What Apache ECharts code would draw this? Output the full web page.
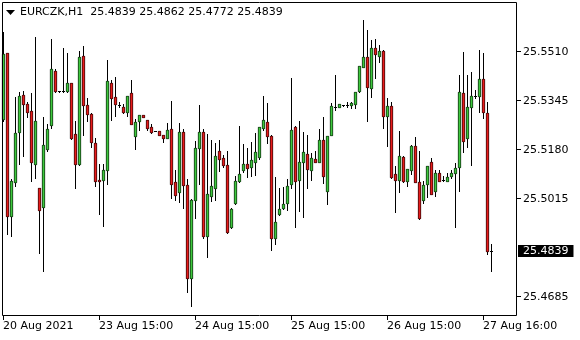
<!DOCTYPE html>
<html><head><meta charset="utf-8">
<script src="https://cdn.jsdelivr.net/npm/echarts@6/dist/echarts.min.js"></script>
<style>html,body{margin:0;padding:0;background:#fff}#c{width:580px;height:340px}</style>
</head><body><div id="c"></div>
<script>
const symbolTitle = 'EURCZK,H1  25.4839 25.4862 25.4772 25.4839';
const opens = [25.5284,25.5505,25.4958,25.5071,25.5239,25.5365,25.5335,25.5311,25.5133,25.5050,
25.4988,25.5183,25.5264,25.5445,25.5378,25.5378,25.5378,25.5404,25.5232,25.5131,
25.5496,25.5331,25.5300,25.5201,25.5078,25.5077,25.5111,25.5405,25.5358,25.5331,
25.5324,25.5306,25.5370,25.5226,25.5277,25.5297,25.5279,25.5257,25.5242,25.5243,
25.5230,25.5219,25.5249,25.5071,25.5037,25.5239,25.5061,25.4749,25.5012,25.5185,
25.5239,25.4889,25.5025,25.5052,25.5176,25.5151,25.5129,25.4920,25.4999,25.5073,
25.5111,25.5133,25.5122,25.5140,25.5156,25.5254,25.5273,25.5226,25.4884,25.4963,
25.4983,25.4999,25.5064,25.5257,25.5077,25.5138,25.5165,25.5111,25.5149,25.5140,
25.5212,25.5041,25.5230,25.5325,25.5323,25.5329,25.5329,25.5329,25.5333,25.5376,
25.5460,25.5491,25.5389,25.5522,25.5494,25.5513,25.5293,25.5327,25.5098,25.5077,
25.5156,25.5073,25.5113,25.5192,25.5071,25.5010,25.5066,25.5138,25.5041,25.5102,
25.5079,25.5075,25.5093,25.5100,25.5122,25.5371,25.5219,25.5324,25.5360,25.5362,
25.5418,25.5304,25.4839];
const closes = [25.5502,25.4958,25.5075,25.5237,25.5362,25.5333,25.5308,25.5138,25.5277,25.4978,
25.5196,25.5250,25.5452,25.5376,25.5378,25.5378,25.5404,25.5219,25.5133,25.5493,
25.5329,25.5300,25.5207,25.5075,25.5074,25.5111,25.5412,25.5353,25.5333,25.5329,
25.5306,25.5361,25.5268,25.5273,25.5297,25.5289,25.5252,25.5241,25.5242,25.5230,
25.5219,25.5246,25.5066,25.5028,25.5239,25.5061,25.4749,25.5012,25.5185,25.5239,
25.4891,25.5032,25.5057,25.5158,25.5149,25.5129,25.4902,25.4981,25.5075,25.5098,
25.5133,25.5118,25.5145,25.5172,25.5257,25.5279,25.5226,25.4884,25.4938,25.4981,
25.4996,25.5059,25.5248,25.5073,25.5138,25.5172,25.5115,25.5151,25.5140,25.5212,
25.5091,25.5226,25.5327,25.5324,25.5334,25.5329,25.5330,25.5338,25.5374,25.5461,
25.5491,25.5392,25.5522,25.5502,25.5513,25.5295,25.5327,25.5088,25.5077,25.5158,
25.5073,25.5115,25.5194,25.5071,25.4949,25.5061,25.5124,25.5032,25.5102,25.5075,
25.5079,25.5088,25.5102,25.5118,25.5374,25.5210,25.5324,25.5360,25.5362,25.5418,
25.5306,25.4839,25.4839];
const lows = [25.5275,25.4896,25.4891,25.5059,25.5133,25.5160,25.5291,25.5073,25.5086,25.4833,
25.4770,25.5174,25.5252,25.5374,25.5374,25.5374,25.5374,25.5217,25.5052,25.5129,
25.5228,25.5275,25.5190,25.5059,25.4965,25.4924,25.5066,25.5281,25.5293,25.5324,
25.5302,25.5294,25.5266,25.5183,25.5247,25.5289,25.5246,25.5237,25.5242,25.5230,
25.5207,25.5219,25.5019,25.5010,25.5003,25.4983,25.4700,25.4653,25.4949,25.5066,
25.4882,25.4819,25.5008,25.5012,25.5109,25.5122,25.4900,25.4918,25.4997,25.5072,
25.5104,25.5088,25.5093,25.5095,25.5149,25.5246,25.5201,25.4842,25.4862,25.4961,
25.4981,25.4978,25.5050,25.4920,25.4972,25.4954,25.5052,25.5077,25.5140,25.5140,
25.5068,25.4996,25.5229,25.5315,25.5323,25.5328,25.5324,25.5322,25.5322,25.5375,
25.5459,25.5277,25.5359,25.5421,25.5475,25.5252,25.5194,25.5084,25.4970,25.5039,
25.5072,25.5059,25.5098,25.5070,25.4948,25.4999,25.5021,25.5031,25.5025,25.5074,
25.5075,25.5074,25.5084,25.4920,25.5041,25.5172,25.5189,25.5129,25.5355,25.5308,
25.5286,25.4830,25.4772];
const highs = [25.5576,25.5507,25.5082,25.5358,25.5374,25.5376,25.5340,25.5371,25.5558,25.5051,
25.5290,25.5266,25.5553,25.5452,25.5378,25.5524,25.5506,25.5405,25.5275,25.5513,
25.5530,25.5353,25.5302,25.5219,25.5133,25.5133,25.5483,25.5414,25.5425,25.5340,
25.5333,25.5362,25.5415,25.5284,25.5298,25.5297,25.5280,25.5266,25.5242,25.5243,
25.5230,25.5270,25.5344,25.5111,25.5270,25.5250,25.5082,25.5014,25.5210,25.5331,
25.5250,25.5232,25.5214,25.5201,25.5212,25.5163,25.5174,25.4983,25.5091,25.5259,
25.5199,25.5185,25.5207,25.5237,25.5258,25.5362,25.5338,25.5228,25.5088,25.5052,
25.5055,25.5082,25.5421,25.5259,25.5277,25.5239,25.5228,25.5169,25.5174,25.5250,
25.5290,25.5227,25.5338,25.5430,25.5335,25.5330,25.5340,25.5342,25.5375,25.5462,
25.5618,25.5584,25.5551,25.5553,25.5533,25.5516,25.5355,25.5340,25.5124,25.5243,
25.5158,25.5116,25.5195,25.5223,25.5174,25.5075,25.5125,25.5151,25.5113,25.5111,
25.5091,25.5102,25.5111,25.5136,25.5432,25.5510,25.5432,25.5443,25.5380,25.5517,
25.5506,25.5340,25.4862];
const yTickValues = [25.4685, 25.5015, 25.5180, 25.5345, 25.5510];
const xTickLabels = ['20 Aug 2021', '23 Aug 15:00', '24 Aug 15:00', '25 Aug 15:00', '26 Aug 15:00', '27 Aug 16:00'];
const xTickEvery = 24;
const emptySlots = 6;
const lastClose = closes[closes.length - 1];

const FONT = 'DejaVu Sans';
const UP = '#3ec83e', DOWN = '#e81c1c';
const Y_MIN = 25.4620, Y_MAX = 25.5674;
const categories = [];
for (let i = 0; i < opens.length + emptySlots; i++) categories.push(String(i));
const candleData = opens.map((o, i) => [i, o, closes[i], lows[i], highs[i]]);
const isTick = (idx) => idx % xTickEvery === 0 && (idx / xTickEvery) < xTickLabels.length;

function renderCandle(params, api) {
  const i = api.value(0), o = api.value(1), c = api.value(2), l = api.value(3), h = api.value(4);
  const pO = api.coord([i, o]), pC = api.coord([i, c]), pL = api.coord([i, l]), pH = api.coord([i, h]);
  const cx = Math.floor(pO[0] + 0.01);
  const yT = Math.round(Math.min(pO[1], pC[1]));
  const yB = Math.round(Math.max(pO[1], pC[1]));
  const yH = Math.round(pH[1]), yL = Math.round(pL[1]);
  const children = [{
    type: 'line', shape: {x1: cx + 0.5, y1: yH, x2: cx + 0.5, y2: yL + 1},
    style: {stroke: '#000', lineWidth: 1}
  }];
  if (yB - yT < 1) {
    children.push({type: 'line', shape: {x1: cx - 1, y1: yT + 0.5, x2: cx + 2, y2: yT + 0.5}, style: {stroke: '#000', lineWidth: 1}});
  } else {
    const hgt = yB - yT + 1;
    children.push({
      type: 'rect', shape: {x: cx - 1, y: yT, width: 3, height: hgt},
      style: {fill: c >= o ? UP : DOWN}
    });
    children.push({
      type: 'rect', shape: {x: cx - 1 + 0.3, y: yT + 0.3, width: 3 - 0.6, height: hgt - 0.6},
      style: {fill: 'none', stroke: '#000', lineWidth: 0.6}
    });
  }
  return {type: 'group', children};
}

const chart = echarts.init(document.getElementById('c'), null, {renderer: 'canvas'});
chart.setOption({
  animation: false,
  backgroundColor: '#fff',
  title: {
    text: symbolTitle, left: 20, top: 6, padding: 0,
    textStyle: {fontFamily: FONT, fontSize: 11, fontWeight: 'normal', color: '#000', lineHeight: 13}
  },
  grid: {left: 1, right: 63, top: 3, bottom: 24, containLabel: false},
  xAxis: {
    type: 'category', data: categories, boundaryGap: true,
    axisLine: {show: false},
    axisTick: {show: true, alignWithLabel: true, interval: (i) => isTick(i), length: 4, lineStyle: {color: '#000'}},
    axisLabel: {
      interval: (i) => isTick(i), align: 'left', margin: 5,
      formatter: (v, i) => xTickLabels[i / xTickEvery],
      fontFamily: FONT, fontSize: 11, color: '#000'
    },
    splitLine: {show: false}
  },
  yAxis: [{
    type: 'value', position: 'right', min: Y_MIN, max: Y_MAX, scale: true,
    axisLine: {show: false},
    splitLine: {show: false},
    axisTick: {show: true, customValues: yTickValues, length: 4, lineStyle: {color: '#000'}},
    axisLabel: {
      customValues: yTickValues, formatter: (v) => Number(v).toFixed(4), margin: 6, align: 'left',
      fontFamily: FONT, fontSize: 11, color: '#000'
    }
  }, {
    type: 'value', position: 'right', min: Y_MIN, max: Y_MAX, scale: true,
    axisLine: {show: false},
    splitLine: {show: false},
    axisTick: {show: false},
    axisLabel: {
      customValues: [lastClose], formatter: (v) => Number(v).toFixed(4), margin: 1, align: 'left',
      fontFamily: FONT, fontSize: 11, color: '#fff', backgroundColor: '#000',
      padding: [1, 5, 0, 5], lineHeight: 11
    }
  }],
  series: [{
    type: 'custom', data: candleData, renderItem: renderCandle,
    encode: {x: 0, y: [1, 2, 3, 4]}, clip: true
  }],
  graphic: [
    {type: 'rect', silent: true, z: 100, shape: {x: 2.5, y: 2.5, width: 514, height: 313}, style: {fill: 'none', stroke: '#000', lineWidth: 1}},
    {type: 'polygon', silent: true, z: 100, shape: {points: [[6, 10], [15, 10], [10.5, 15]]}, style: {fill: '#000'}}
  ]
});
</script></body></html>
